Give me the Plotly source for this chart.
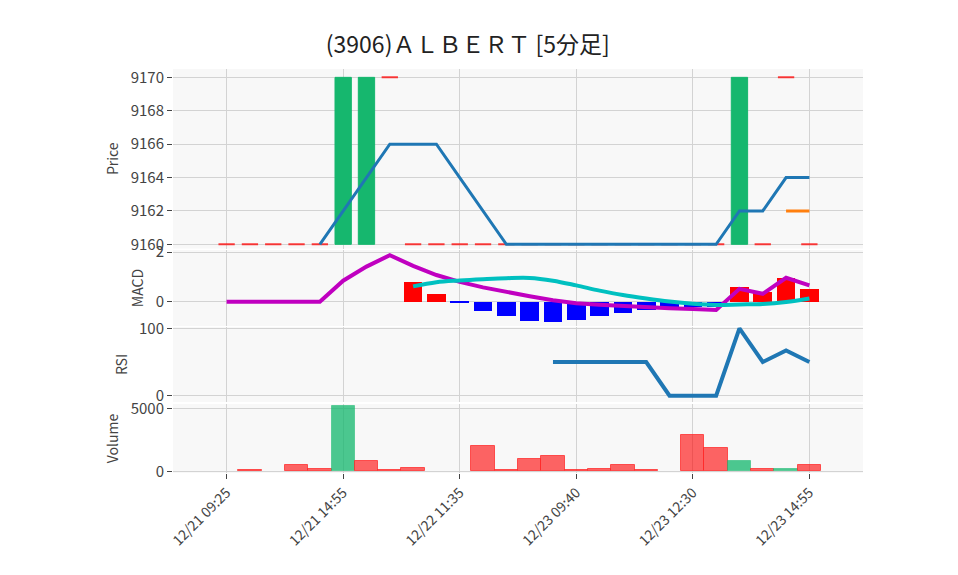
import plotly.graph_objects as go
from plotly.subplots import make_subplots

# ---------------- data ----------------
title_text = "(3906)ＡＬＢＥＲＴ [5分足]"
x_idx = list(range(26))
tick_pos = [0, 5, 10, 15, 20, 25]
tick_labels = ["12/21 09:25", "12/21 14:55", "12/22 11:35",
               "12/23 09:40", "12/23 12:30", "12/23 14:55"]

opens = [9160, 9160, 9160, 9160, 9160, 9160, 9160, 9170, 9160, 9160,
         9160, 9160, 9160, 9160, 9160, 9160, 9160, 9160, 9160, 9160,
         9160, 9160, 9160, 9160, 9170, 9160]
closes = [9160, 9160, 9160, 9160, 9160, 9170, 9170, 9170, 9160, 9160,
          9160, 9160, 9160, 9160, 9160, 9160, 9160, 9160, 9160, 9160,
          9160, 9160, 9170, 9160, 9170, 9160]
highs = [max(o, c) for o, c in zip(opens, closes)]
lows = [min(o, c) for o, c in zip(opens, closes)]

ma5 = [None, None, None, None, 9160, 9162, 9164, 9166, 9166, 9166,
       9164, 9162, 9160, 9160, 9160, 9160, 9160, 9160, 9160, 9160,
       9160, 9160, 9162, 9162, 9164, 9164]
ma25 = [None] * 24 + [9162, 9162]

macd = [0, 0, 0, 0, 0, 0.85, 1.42, 1.88, 1.45, 1.08,
        0.80, 0.58, 0.38, 0.22, 0.06, -0.06, -0.12, -0.18, -0.22, -0.26,
        -0.29, -0.33, 0.52, 0.32, 0.97, 0.66]
signal = [None] * 8 + [0.62, 0.79, 0.86, 0.91, 0.95, 0.96, 0.85, 0.66, 0.45,
                       0.27, 0.13, 0.01, -0.08, -0.13, -0.11, -0.09, -0.01, 0.13]
hist = [None] * 8 + [0.81, 0.31, -0.02, -0.36, -0.57, -0.77, -0.81, -0.74, -0.57,
                     -0.44, -0.35, -0.27, -0.21, -0.20, 0.60, 0.41, 0.95, 0.53]

rsi = [None] * 14 + [50, 50, 50, 50, 50, 0, 0, 0, 100, 50, 67, 50]

volume = [None, 100, None, 500, 200, 5200, 800, 100, 250, None,
          None, 2000, 100, 1000, 1200, 100, 150, 500, 100, None,
          2900, 1850, 800, 150, 150, 500]
vol_up = [False, False, False, False, False, True, False, False, False, False,
          False, False, False, False, False, False, False, False, False, False,
          False, False, True, False, True, False]

# ---------------- styling ----------------
GREEN = "rgb(22,183,110)"
RED = "rgb(255,0,0)"
FONT = "Noto Sans CJK JP"

fig = make_subplots(rows=4, cols=1, shared_xaxes=True, vertical_spacing=0.005)

up_x = [i for i in x_idx if closes[i] > opens[i]]
dn_x = [i for i in x_idx if not closes[i] > opens[i]]

fig.add_trace(go.Candlestick(
    x=dn_x, open=[opens[i] for i in dn_x], high=[highs[i] for i in dn_x],
    low=[lows[i] for i in dn_x], close=[closes[i] for i in dn_x],
    increasing=dict(line=dict(color=RED, width=2), fillcolor=RED),
    decreasing=dict(line=dict(color=RED, width=2), fillcolor=RED),
    opacity=0.75, showlegend=False), row=1, col=1)
fig.add_trace(go.Candlestick(
    x=up_x, open=[opens[i] for i in up_x], high=[highs[i] for i in up_x],
    low=[lows[i] for i in up_x], close=[closes[i] for i in up_x],
    increasing=dict(line=dict(color=GREEN, width=1), fillcolor=GREEN),
    decreasing=dict(line=dict(color=GREEN, width=1), fillcolor=GREEN),
    showlegend=False), row=1, col=1)
fig.add_trace(go.Scatter(x=x_idx, y=ma5, mode="lines",
                         line=dict(color="#1f77b4", width=3), showlegend=False), row=1, col=1)
fig.add_trace(go.Scatter(x=x_idx, y=ma25, mode="lines",
                         line=dict(color="#ff7f0e", width=3), showlegend=False), row=1, col=1)

hist_colors = [("red" if (h is not None and h > 0) else "blue") for h in hist]
fig.add_trace(go.Bar(x=x_idx, y=hist, marker=dict(color=hist_colors, line=dict(width=0)),
                     width=0.8, showlegend=False), row=2, col=1)
fig.add_trace(go.Scatter(x=x_idx, y=macd, mode="lines",
                         line=dict(color="#c000c0", width=4), showlegend=False), row=2, col=1)
fig.add_trace(go.Scatter(x=x_idx, y=signal, mode="lines", line_shape="spline",
                         line=dict(color="#00c0c0", width=4), showlegend=False), row=2, col=1)

fig.add_trace(go.Scatter(x=x_idx, y=rsi, mode="lines",
                         line=dict(color="#1f77b4", width=4), showlegend=False), row=3, col=1)

vol_fill = ["rgba(22,183,110,0.77)" if u else "rgba(255,0,0,0.6)" for u in vol_up]
vol_line = ["rgba(22,183,110,0.5)" if u else "rgba(255,40,40,0.75)" for u in vol_up]
fig.add_trace(go.Bar(x=x_idx, y=volume, width=1.0,
                     marker=dict(color=vol_fill, line=dict(color=vol_line, width=1)),
                     showlegend=False), row=4, col=1)

# ---------------- layout ----------------
# figure-pixel positions (page is offset by the 8px body margin)
TOP, BOT = 61, 465
ph = float(BOT - TOP)
def dom(top_px, bot_px):
    return [(BOT - bot_px) / ph, (BOT - top_px) / ph]

fig.update_layout(
    width=958, height=575, autosize=False,
    margin=dict(l=165, r=103, t=TOP, b=575 - BOT),
    paper_bgcolor="white", plot_bgcolor="#f8f8f8",
    font=dict(family=FONT, size=13, color="#444"),
    title=dict(text=title_text, x=0.48, xanchor="center", y=1 - 37 / 575, yanchor="middle",
               font=dict(family=FONT, size=23, color="#222")),
    showlegend=False, bargap=0, boxgap=0.3, boxgroupgap=0,
    yaxis=dict(domain=dom(61, 240.5)),
    yaxis2=dict(domain=dom(242, 318)),
    yaxis3=dict(domain=dom(319, 394)),
    yaxis4=dict(domain=dom(396, 465)),
)

grid = "#d3d3d3"
for i in range(1, 5):
    fig.update_xaxes(row=i, col=1, range=[-2.3, 27.3], tickmode="array",
                     tickvals=tick_pos, ticktext=tick_labels, showgrid=True,
                     gridcolor=grid, zeroline=False, rangeslider=dict(visible=False),
                     showticklabels=(i == 4), ticks="outside" if i == 4 else "",
                     ticklen=5, tickcolor="#444", tickangle=-45,
                     tickfont=dict(size=14))

fig.update_yaxes(row=1, col=1, range=[9159.75, 9170.5], tickvals=[9160, 9162, 9164, 9166, 9168, 9170],
                 title_text="Price")
fig.update_yaxes(row=2, col=1, range=[-0.98, 2.09], tickvals=[0, 2], title_text="MACD")
fig.update_yaxes(row=3, col=1, range=[-9.3, 101.9], tickvals=[0, 100], title_text="RSI")
fig.update_yaxes(row=4, col=1, range=[-135, 5340], tickvals=[0, 5000], title_text="Volume")
fig.update_yaxes(showgrid=True, gridcolor=grid, zeroline=False, ticks="outside",
                 ticklen=5, tickcolor="#444", tickfont=dict(size=15),
                 title_font=dict(size=14), title_standoff=8)

fig.write_html("out.html")
